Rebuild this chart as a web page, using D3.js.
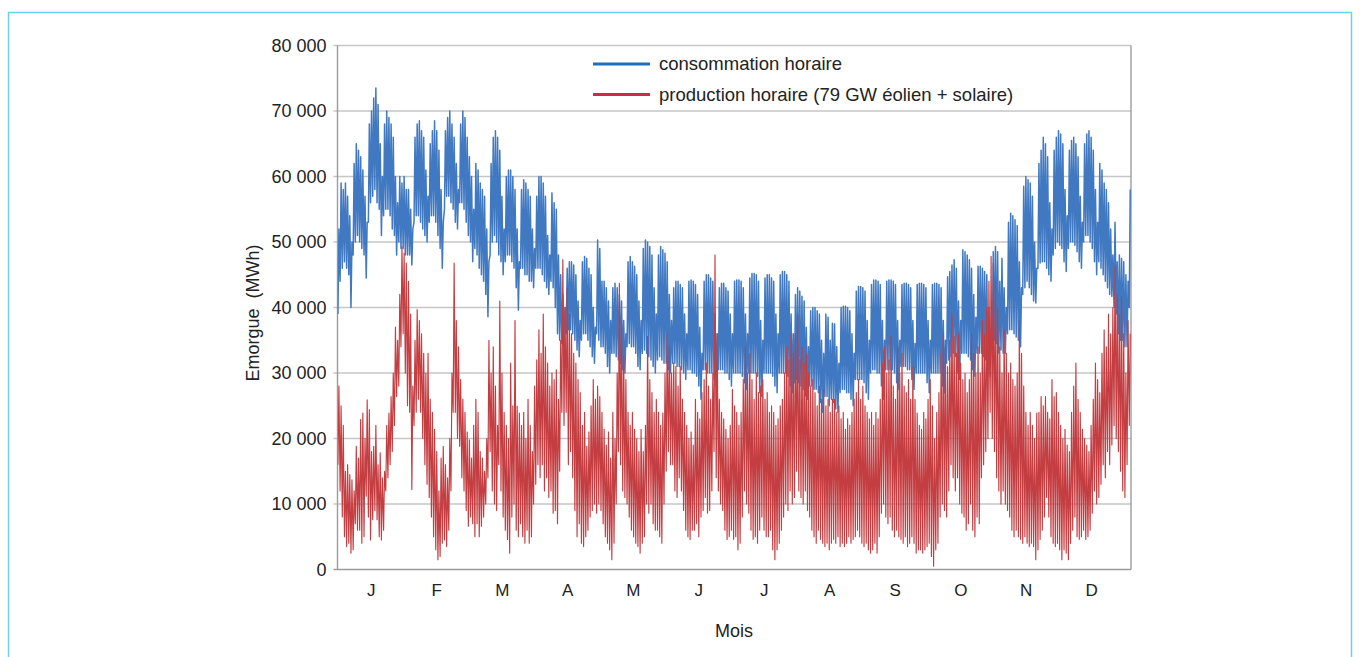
<!DOCTYPE html>
<html>
<head>
<meta charset="utf-8">
<script src="https://cdn.jsdelivr.net/npm/d3@7"></script>
<style>
  html, body { margin: 0; padding: 0; background: #ffffff; }
  svg { display: block; font-family: "Liberation Sans", Arial, sans-serif; }
</style>
</head>
<body>
<svg id="chart" width="1362" height="657"></svg>
<script>
// Mois (axe horizontal)
const moisLabels = ["J", "F", "M", "A", "M", "J", "J", "A", "S", "O", "N", "D"];
// Graduations de l'axe vertical (MWh)
const yTicks = [0, 10000, 20000, 30000, 40000, 50000, 60000, 70000, 80000];

// Consommation horaire : maximum journalier (milliers de MWh), une ligne par semaine
const consoMax = [
  52, 59, 58, 59, 57, 54, 50,
  62, 65, 64, 63, 61, 57, 53,
  68, 70, 72, 73.5, 71, 65, 60,
  68, 70, 69, 68, 66, 60, 56,
  60, 59, 60, 58, 58, 55, 52,
  66, 68, 68.5, 67, 66, 61, 57,
  65, 67, 68.5, 67, 64, 58, 53,
  67, 69, 70, 68, 66, 62, 58,
  68, 70, 69, 66, 63, 60, 55,
  62, 61, 59, 58, 57, 52, 47,
  62, 66, 67, 66, 64, 57, 52,
  60, 61, 61, 60, 58, 52, 47,
  58, 59.5, 59, 58, 57, 52, 49,
  57, 60, 60, 59, 57, 51, 48,
  57.5, 56, 55, 48, 45, 42, 40,
  46, 47, 47, 46.5, 45, 41, 38,
  47, 47.8, 47.5, 46, 45, 40, 37,
  50.3, 49, 44, 44, 43, 41, 38,
  43, 43.7, 43, 42, 41, 38, 36,
  47, 47.8, 47, 46.3, 45, 41, 38,
  49, 50.3, 50, 49.3, 48, 43, 39,
  48, 49.3, 48.8, 48.3, 47, 42, 38,
  43, 44, 44, 43.5, 43, 39, 36,
  44, 44.2, 44, 43.5, 42, 37, 33,
  44, 45, 45, 44.5, 44, 39, 36,
  43, 43.7, 43.7, 43, 42.5, 39, 36,
  44, 44.2, 44.2, 44, 43, 39, 36,
  44.5, 45.2, 45.2, 45, 44, 38, 35,
  44.5, 45, 45, 44.5, 44, 39, 36,
  45, 45.5, 45.5, 45, 44, 39, 36,
  42, 43, 42.5, 41.7, 41, 37, 34,
  39.5, 40, 40, 39.5, 39, 35, 33,
  39, 38.5, 35, 37.6, 37.5, 34, 31.5,
  40, 40.2, 40.2, 40, 39.5, 36, 33,
  42.5, 43.2, 43.2, 43, 42.5, 38, 35,
  43.5, 44.2, 44.2, 44, 43.5, 38, 35,
  44, 44.2, 44.2, 44, 43.5, 38, 35,
  43.5, 43.7, 43.7, 43.5, 43, 38, 34.5,
  43.5, 43.7, 43.7, 43.5, 43, 38, 35,
  43.5, 43.7, 43.7, 43.5, 43, 38, 35,
  44.7, 45.5, 46.5, 47.3, 46, 41, 38,
  48.8, 48.5, 48, 47.3, 46, 42, 38.5,
  46.3, 46.3, 46, 45.5, 45, 40, 37,
  48.5, 49.3, 48.5, 44, 47.5, 43, 40,
  53, 54.4, 54, 53.4, 52.5, 47, 43,
  58.5, 60, 59.5, 59, 57, 50, 46,
  62, 64, 66, 65, 63, 56, 52,
  64, 66, 67, 66.5, 65, 58, 54,
  64, 65.5, 66, 65, 63, 57, 53,
  65, 66.5, 67, 66, 64, 58, 53,
  62, 61, 59, 58, 56, 52, 48,
  53, 47, 48, 47.5, 47, 45, 44,
  58
];

// Consommation horaire : minimum journalier (milliers de MWh)
const consoMin = [
  39, 44, 46, 47, 46, 45, 40,
  48, 50, 51, 50, 49, 48, 44.5,
  53, 56, 57, 58, 56, 55, 51,
  54, 55, 55, 54, 52, 51, 48,
  50, 49, 49, 48, 48, 48, 46.5,
  53, 54, 54, 53, 52, 51, 50,
  53, 54, 54, 53, 51, 49, 46,
  55, 57, 57, 56, 55, 53, 52,
  56, 56, 55, 53, 51, 50, 47,
  49, 48, 46, 45, 44, 42, 38.6,
  48, 50, 51, 50, 48, 47, 45,
  47, 48, 48, 47, 46, 43, 39.6,
  46, 46, 45, 45, 44, 44, 43,
  46, 46, 46, 45, 44, 43, 42,
  44, 43, 40, 36, 35, 34.5, 34,
  36, 36.6, 36.6, 36, 35, 33.5, 32.5,
  35, 36, 36, 35, 34, 32.5, 31.5,
  36, 35, 34, 34, 33, 31, 30,
  33, 33, 32.5, 32, 31.5, 30.5, 30,
  34, 34.5, 34, 34, 33, 31, 30.5,
  33, 33.5, 33, 32.5, 32, 31, 30,
  32, 32.5, 32, 31.5, 31.5, 30.5, 30,
  31.5, 31.5, 31, 31, 30.5, 30, 29,
  30.5, 30.5, 30, 30, 29.5, 28, 26,
  30.5, 30.5, 30, 30, 30, 29, 28,
  30.5, 30.5, 30.5, 30, 30, 29, 28,
  30, 30, 30, 30, 29.5, 28.5, 27.5,
  30, 30, 30, 30, 29.5, 27, 26.4,
  30, 30, 30, 30, 29.5, 28, 27,
  30, 30, 30, 30, 29.5, 28, 27,
  28.5, 29, 28.5, 28, 27.5, 26.5, 26,
  28, 28, 27.5, 27.5, 27, 25.5, 24,
  26.4, 26.4, 25, 26, 25.5, 24.5, 24,
  27, 27.5, 27.5, 27, 27, 26, 25,
  29, 29, 29, 29, 28.5, 27, 26,
  30, 30.5, 30.5, 30, 30, 28, 26,
  30.5, 30.5, 30.5, 30.5, 30, 28.5, 27.5,
  31, 31, 31, 30.5, 30.5, 29, 27.5,
  30, 30, 30, 30, 30, 28.5, 27,
  30, 30, 30, 30, 30, 28, 27,
  31.5, 32, 32.5, 33, 32.5, 30, 29,
  33, 33, 33, 32.5, 32, 30.5, 29.5,
  33, 33, 33, 32.5, 32, 30.5, 29.5,
  34, 35, 34.5, 33, 33.5, 33, 33,
  36, 36.6, 36.6, 36, 35.5, 35, 34,
  42, 43, 44, 43, 42, 41, 40.7,
  46, 46.8, 47, 47, 46, 45, 44,
  48, 49, 50, 49.5, 49, 47, 45.5,
  49, 50, 50, 49.5, 48.5, 47, 46,
  50, 51, 51, 50, 49, 47, 45,
  47, 46, 45, 44, 43, 42, 41.7,
  40, 39, 36, 35, 35, 34, 34,
  40
];

// Production éolien + solaire : maximum journalier (milliers de MWh), dix jours par ligne
const prodMax = [
  28, 25, 22, 15, 16, 14.5, 13.7, 12, 18.8, 17,
  22.9, 23.9, 20, 25.9, 24.4, 18, 18.8, 22, 16, 17.8,
  14, 15, 22, 23.9, 26.4, 30, 37, 35, 42, 49.3,
  48.3, 46.8, 44, 39, 28, 35, 39.7, 38, 36, 33,
  30, 33, 26, 24, 21.4, 18, 12, 17, 18.8, 16,
  14, 20, 30, 46.8, 38, 34, 29, 26, 24, 21,
  19.8, 17, 22, 26, 24, 18, 17, 15, 20, 35,
  30, 34, 28, 22, 41, 30, 24, 22, 20, 31.5,
  25, 38, 24.9, 23.9, 22, 24, 20, 26, 22, 18,
  28, 32, 36.6, 33, 39, 34, 31.5, 28, 30, 29,
  30.5, 26, 35, 47.3, 40, 43, 39, 36, 33, 31.5,
  29, 27, 22, 24, 18.8, 21, 25, 29, 26, 28,
  26.4, 24, 21.4, 19, 21, 17, 24, 20, 30, 43.7,
  38, 32.5, 29, 24, 22, 24, 21.4, 20, 18, 21.4,
  18, 22, 35.6, 29, 27, 24, 26, 24, 22, 23.9,
  30, 36, 34, 30, 31.5, 31, 28, 31, 26, 24,
  22, 20, 21, 19, 26, 24, 23, 27, 29, 31.5,
  28, 26, 30, 48, 36, 26, 24, 23, 21.4, 20,
  22, 27.5, 25, 24, 22, 24, 29, 34, 30, 33,
  29, 26, 30, 27, 28, 29, 26, 27, 24, 25,
  24, 22, 23, 25, 26, 30, 34, 32, 36, 33,
  36, 39, 32, 34, 31.5, 33, 30, 28, 29, 27,
  25, 28, 26, 27.5, 25, 26, 24, 26, 26, 24,
  25, 23, 24, 21.4, 23, 22, 24, 26, 27, 29,
  26, 28, 25, 24, 23, 24, 22, 24, 23, 26,
  31.5, 34, 30, 32, 35.6, 28, 26, 34, 30, 33,
  28, 27, 29, 26, 31, 26, 23.9, 22, 21.4, 24,
  23, 26, 29, 25, 20, 24, 27, 33, 36, 34,
  31, 35, 39, 35.6, 33, 36, 31.5, 29, 30, 27,
  29, 36, 33, 30, 34, 30, 38, 36, 40, 44,
  47.8, 46.8, 44, 40, 34, 30, 36.6, 33, 30, 31.5,
  29, 28, 30, 38, 33, 28, 24, 22, 24, 22,
  20, 23.9, 24, 26.4, 25, 26.4, 24, 23, 29, 26.4,
  27, 24, 22, 20, 21.4, 19, 18, 24, 28, 31.5,
  26, 24, 21.4, 20, 19, 18, 22, 26, 31.5, 29,
  27, 33, 36.6, 34, 39, 36, 40, 46.3, 42, 39,
  41.7, 36, 30, 38, 36
];

// Production éolien + solaire : minimum journalier (milliers de MWh)
const prodMin = [
  16, 12, 8, 5, 3.5, 4, 2.5, 3, 7, 6,
  6, 4, 5, 11.2, 8, 4.5, 7.6, 9, 7.6, 5,
  4.5, 6, 12, 14, 16, 18, 22, 26.4, 28, 34,
  36, 30, 25, 24, 12.2, 22, 24, 26, 24, 20,
  16, 13, 11, 8, 5, 3, 1.5, 2, 4, 4.5,
  3.5, 6, 12, 24, 24, 20, 18.8, 14, 12, 9,
  6.6, 8, 7, 5, 7, 5, 6.6, 8, 10, 14,
  18, 12, 10, 9, 16, 12, 8, 6, 4.6, 2.5,
  8, 10, 6, 5, 7, 5, 4, 6, 4, 5,
  10, 13, 16, 14, 16, 12, 14, 11, 12, 8.6,
  9, 7, 15, 24, 22, 24, 16, 18, 14, 9,
  5, 7, 4, 3.5, 5, 6, 8, 9, 10, 8.6,
  10, 9, 7, 5, 4, 3, 1.5, 4, 10, 18,
  16, 12, 11, 10, 8, 6, 5, 4, 3.5, 2.5,
  4, 5, 10, 8.6, 10, 7, 6, 6, 5, 4,
  10, 15, 18, 16, 16, 12, 11, 14, 12, 9,
  6, 5, 4.6, 6, 6, 7, 5, 8, 9, 11,
  8.6, 9, 12, 18, 14, 12, 10, 9, 6, 4.6,
  5, 6, 4.6, 5, 3, 4, 8, 12, 10, 8.6,
  6, 4.6, 5, 4, 6, 8, 6, 5, 5, 6,
  3, 1.5, 3, 4, 6, 8, 10, 9, 12, 10,
  11, 15, 12, 11, 10, 12, 9, 8, 6, 5,
  4, 6, 4.6, 4, 3.5, 4, 3, 4, 4.6, 4,
  5, 3.5, 4, 3.5, 4, 5, 4, 4.6, 5, 6,
  5, 4, 3.5, 4, 3, 2.5, 3, 4, 2.5, 5,
  8.6, 10, 8, 7, 8, 6, 5, 6, 5, 4.6,
  4, 5, 3.5, 4, 5, 4, 2.5, 3, 3, 2.5,
  3, 3.5, 4, 2, 0.5, 3, 4, 8, 10, 9,
  8, 12, 16, 14, 12, 14, 10, 8.6, 8, 6,
  7, 10, 6, 5, 8, 7, 14, 16, 18, 20,
  24, 20, 18, 14, 12, 10, 12, 10, 9, 8,
  6, 5, 6, 5, 4.6, 4, 5, 4, 3.5, 4,
  3.5, 1.5, 3, 4.6, 6, 8, 11, 8, 5, 4,
  3.5, 4, 3, 1.5, 3, 2.5, 1.5, 4, 6, 8,
  5, 4.6, 5, 6, 4.6, 5, 6, 8.6, 12, 10,
  11, 13, 16, 14, 18, 16, 19, 22, 20, 18,
  15, 12, 11, 16, 22
];

const series = [
  { name: "consommation horaire", min: consoMin, max: consoMax, color: "#4079c2", legend: "#1f6fba", width: 1.5 },
  { name: "production horaire (79 GW éolien + solaire)", min: prodMin, max: prodMax, color: "#c43d41", legend: "#c92c45", width: 1.15 }
];

const svg = d3.select("#chart");
const plot = { left: 337.5, right: 1131, top: 45.5, bottom: 569.5 };

const x = d3.scaleLinear().domain([0, 365]).range([plot.left, plot.right]);
const y = d3.scaleLinear().domain([0, 80000]).range([plot.bottom, plot.top]);
const xMonth = d3.scaleBand().domain(d3.range(12)).range([338.5, 1124.5]);

const frFormat = d3.formatLocale({ decimal: ",", thousands: "\u00a0", grouping: [3], currency: ["", " €"] }).format(",");

// cadre bleu clair
svg.append("rect")
  .attr("x", 8.5).attr("y", 12.5)
  .attr("width", 1343).attr("height", 700)
  .attr("fill", "none").attr("stroke", "#6fcdf3").attr("stroke-width", 1.5);

// quadrillage horizontal
svg.append("g").selectAll("line").data(yTicks).join("line")
  .attr("x1", plot.left - 4).attr("x2", plot.right)
  .attr("y1", d => y(d)).attr("y2", d => y(d))
  .attr("stroke", d => d === 0 ? "#9c9c9c" : "#c6c6c6")
  .attr("stroke-width", 1.4);

// axe vertical (graduations et libellés)
const yAxis = svg.append("g")
  .attr("transform", `translate(${plot.left},0)`)
  .call(d3.axisLeft(y).tickValues(yTicks).tickSize(0).tickPadding(11).tickFormat(frFormat));
yAxis.select(".domain").remove();
yAxis.selectAll("text")
  .attr("font-family", "'Liberation Sans', Arial, sans-serif")
  .attr("font-size", 18).attr("fill", "#222");

// bords du tracé
svg.append("line")
  .attr("x1", plot.left).attr("x2", plot.left)
  .attr("y1", plot.top).attr("y2", plot.bottom)
  .attr("stroke", "#9c9c9c").attr("stroke-width", 1.4);
svg.append("line")
  .attr("x1", plot.right).attr("x2", plot.right)
  .attr("y1", plot.top).attr("y2", plot.bottom)
  .attr("stroke", "#9c9c9c").attr("stroke-width", 1.4);

// libellés des mois
const xAxis = svg.append("g")
  .attr("transform", `translate(0,${plot.bottom})`)
  .call(d3.axisBottom(xMonth).tickSize(0).tickPadding(14).tickFormat(i => moisLabels[i]));
xAxis.select(".domain").remove();
xAxis.selectAll("text")
  .attr("font-family", "'Liberation Sans', Arial, sans-serif")
  .attr("font-size", 17).attr("fill", "#222");

// titres d'axes
svg.append("text")
  .attr("x", 734).attr("y", 637)
  .attr("text-anchor", "middle")
  .attr("font-size", 18).attr("fill", "#222")
  .text("Mois");
svg.append("text")
  .attr("transform", "translate(259,313) rotate(-90)")
  .attr("text-anchor", "middle")
  .attr("font-size", 18).attr("fill", "#222")
  .style("white-space", "pre")
  .text("Emorgue  (MWh)");

// courbes : creux nocturne puis pointe de la journée, jour après jour
const line = d3.line().x(d => x(d[0])).y(d => y(d[1]));
svg.append("clipPath").attr("id", "zone")
  .append("rect")
  .attr("x", plot.left).attr("y", plot.top)
  .attr("width", plot.right - plot.left).attr("height", plot.bottom - plot.top);

series.forEach(s => {
  const pts = [];
  s.max.forEach((vMax, i) => {
    pts.push([i + 0.2, s.min[i] * 1000]);
    pts.push([i + 0.65, vMax * 1000]);
  });
  svg.append("path")
    .attr("clip-path", "url(#zone)")
    .attr("d", line(pts))
    .attr("fill", "none")
    .attr("stroke", s.color)
    .attr("stroke-width", s.width)
    .attr("stroke-linejoin", "round");
});

// légende
const legend = svg.append("g");
series.forEach((s, i) => {
  const ly = 64 + i * 30.5;
  legend.append("line")
    .attr("x1", 593).attr("x2", 650)
    .attr("y1", ly).attr("y2", ly)
    .attr("stroke", s.legend).attr("stroke-width", 3);
  legend.append("text")
    .attr("x", 659).attr("y", ly)
    .attr("dy", "0.35em")
    .attr("font-size", 18.5).attr("fill", "#222")
    .text(s.name);
});
</script>
</body>
</html>
